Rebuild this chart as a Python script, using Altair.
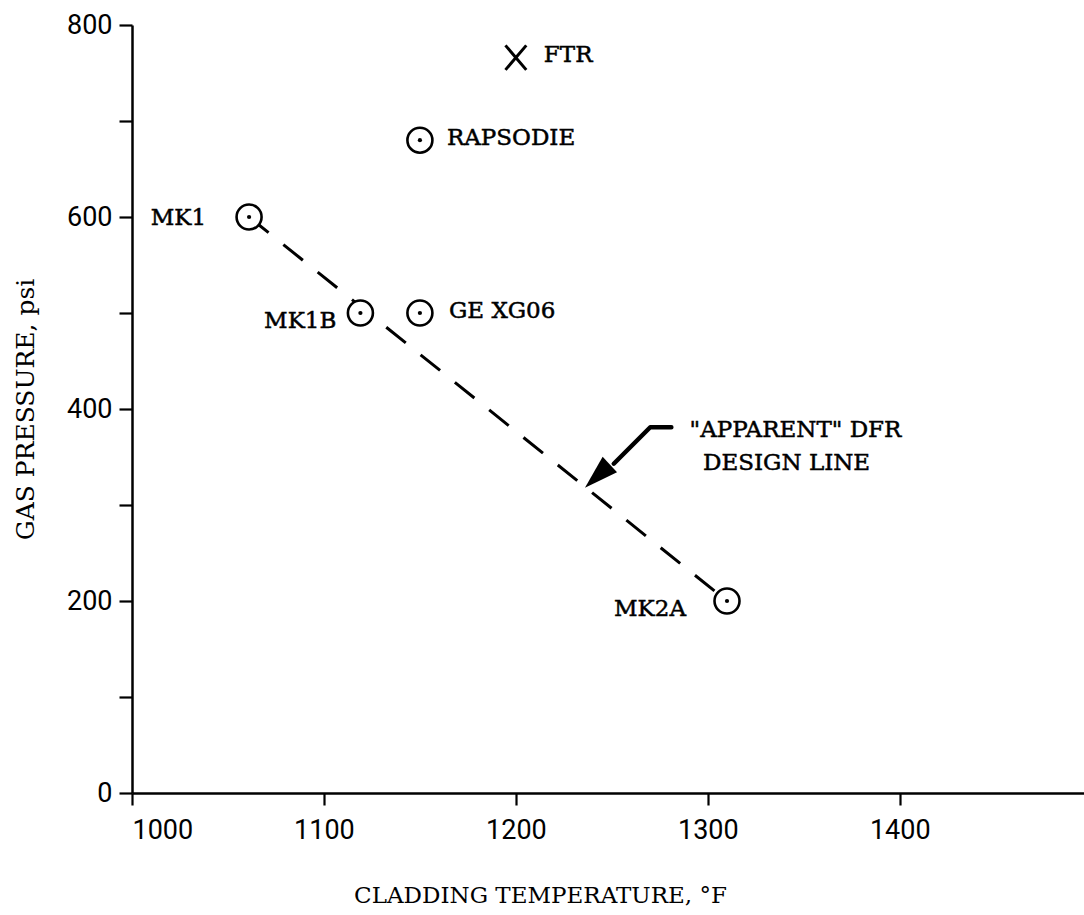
import altair as alt
import pandas as pd

# ---- data ----
names = ["MK1", "MK1B", "GE XG06", "RAPSODIE", "FTR", "MK2A"]
temps = [1061, 1119, 1150, 1150, 1200, 1310]
press = [600, 500, 500, 680, 766, 200]
markers = ["circle", "circle", "circle", "circle", "x", "circle"]

# "apparent" design line end points
line_temps = [1061, 1310]
line_press = [600, 200]

# arrow (shaft polyline and tip) pointing at the design line
arrow_temps = [1281, 1270, 1251]
arrow_press = [381, 381, 343]
arrow_tip_temp = [1236]
arrow_tip_press = [318]

note_lines = ['"APPARENT" DFR', "DESIGN LINE"]
note_temps = [1290.5, 1297.5]
note_press = [378, 344]

x_ticks = [1000, 1100, 1200, 1300, 1400]
y_ticks = [0, 100, 200, 300, 400, 500, 600, 700, 800]

df = pd.DataFrame({"name": names, "temp": temps, "press": press, "marker": markers})
line_df = pd.DataFrame({"temp": line_temps, "press": line_press})
arrow_df = pd.DataFrame({"temp": arrow_temps, "press": arrow_press, "o": list(range(len(arrow_temps)))})
tip_df = pd.DataFrame({"temp": arrow_tip_temp, "press": arrow_tip_press})
note_df = pd.DataFrame({"txt": note_lines, "temp": note_temps, "press": note_press})

SERIF = "DejaVu Serif"
TICKFONT = "Roboto"

x_enc = alt.X(
    "temp:Q",
    scale=alt.Scale(domain=[1000, 1496], nice=False, zero=False),
    axis=alt.Axis(
        values=x_ticks, format="d",
        title="CLADDING TEMPERATURE, °F",
        titleX=408, titleY=102, titleAlign="center", titleBaseline="middle",
        labelPadding=12, tickSize=12,
    ),
)
y_enc = alt.Y(
    "press:Q",
    scale=alt.Scale(domain=[0, 800], nice=False, zero=True),
    axis=alt.Axis(
        values=y_ticks, format="d",
        labelExpr="datum.value % 200 === 0 ? datum.label : ''",
        title="GAS PRESSURE, psi", titleFontSize=25,
        titleX=-107, titleY=384, titleAngle=270, titleAlign="center", titleBaseline="middle",
        labelPadding=7, tickSize=13,
    ),
)

design_line = alt.Chart(line_df).mark_line(
    color="black", strokeWidth=3, strokeDash=[25, 19]
).encode(x=x_enc, y=y_enc)

circles = alt.Chart(df).transform_filter("datum.marker === 'circle'").mark_point(
    shape="circle", size=625, filled=True, fill="white", stroke="black",
    strokeWidth=2.6, opacity=1, fillOpacity=1, strokeOpacity=1
).encode(x=x_enc, y=y_enc)

dots = alt.Chart(df).transform_filter("datum.marker === 'circle'").mark_point(
    shape="circle", size=18, filled=True, color="black", opacity=1
).encode(x=x_enc, y=y_enc)

xmark = alt.Chart(df).transform_filter("datum.marker === 'x'").mark_point(
    shape="M-0.85,-1L0.85,1M-0.85,1L0.85,-1", size=600, filled=False,
    stroke="black", strokeWidth=3, opacity=1
).encode(x=x_enc, y=y_enc)

label_style = {
    "MK1": dict(align="right", dx=-43, dy=1),
    "MK1B": dict(align="right", dx=-24, dy=8),
    "GE XG06": dict(align="left", dx=29, dy=-2),
    "RAPSODIE": dict(align="left", dx=27, dy=-2),
    "FTR": dict(align="left", dx=28, dy=-3),
    "MK2A": dict(align="right", dx=-41, dy=8),
}
labels = []
for nm in names:
    st = label_style[nm]
    labels.append(
        alt.Chart(df).transform_filter(alt.datum.name == nm).mark_text(
            font=SERIF, fontSize=23, color="black", baseline="middle",
            stroke="black", strokeWidth=0.5, **st
        ).encode(x=x_enc, y=y_enc, text="name:N")
    )

shaft = alt.Chart(arrow_df).mark_line(color="black", strokeWidth=4.5, strokeCap="round", strokeJoin="round").encode(
    x=x_enc, y=y_enc, order="o:Q"
)
head = alt.Chart(tip_df).mark_point(
    shape="M0,0L-0.62,-2L0.62,-2Z", size=1156, filled=True, color="black",
    opacity=1, angle=47
).encode(x=x_enc, y=y_enc)

notes = alt.Chart(note_df).mark_text(
    font=SERIF, fontSize=23, color="black", align="left", baseline="middle",
    stroke="black", strokeWidth=0.5
).encode(x=x_enc, y=y_enc, text="txt:N")

chart = alt.layer(
    design_line, circles, dots, xmark, shaft, head, notes, *labels
).properties(
    width=952, height=768,
    padding={"left": 132, "top": 25, "right": 0, "bottom": 122},
    autosize=alt.AutoSizeParams(type="none"),
    background="white",
).configure_view(stroke=None).configure_axis(
    grid=False,
    domainColor="black", domainWidth=2.5,
    tickColor="black", tickWidth=2.2,
    labelFont=TICKFONT, labelFontSize=27, labelColor="black",
    titleFont=SERIF, titleFontSize=23, titleFontWeight="normal", titleColor="black",
)

chart.save("out.html", embed_options={"renderer": "svg", "actions": False})
